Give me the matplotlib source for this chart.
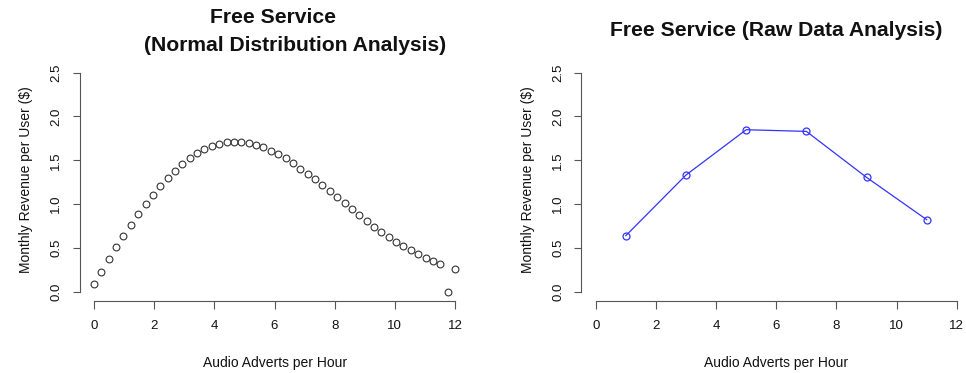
import matplotlib
matplotlib.use("Agg")
import matplotlib.pyplot as plt

plt.rcParams['font.family'] = ['Liberation Sans', 'DejaVu Sans']

# ---- data ----
norm_x = [0.000, 0.245, 0.490, 0.735, 0.980, 1.224, 1.469, 1.714, 1.959, 2.204,
          2.449, 2.694, 2.939, 3.184, 3.429, 3.673, 3.918, 4.163, 4.408, 4.653,
          4.898, 5.143, 5.388, 5.633, 5.878, 6.122, 6.367, 6.612, 6.857, 7.102,
          7.347, 7.592, 7.837, 8.082, 8.327, 8.571, 8.816, 9.061, 9.306, 9.551,
          9.796, 10.041, 10.286, 10.531, 10.776, 11.020, 11.265, 11.510, 11.755, 12.000]
norm_y = [0.091, 0.231, 0.372, 0.509, 0.638, 0.763, 0.885, 0.999, 1.105, 1.207,
          1.298, 1.382, 1.458, 1.523, 1.580, 1.625, 1.663, 1.689, 1.705, 1.712,
          1.708, 1.697, 1.680, 1.648, 1.609, 1.572, 1.526, 1.465, 1.405, 1.348,
          1.283, 1.215, 1.147, 1.078, 1.010, 0.942, 0.873, 0.809, 0.744, 0.683,
          0.626, 0.573, 0.524, 0.478, 0.433, 0.391, 0.353, 0.319, 0.003, 0.262]

raw_x = [1, 3, 5, 7, 9, 11]
raw_y = [0.642, 1.333, 1.849, 1.830, 1.306, 0.824]

x_ticks = [0, 2, 4, 6, 8, 10, 12]
y_ticks = [0.0, 0.5, 1.0, 1.5, 2.0, 2.5]
y_ticklabels = ["0.0", "0.5", "1.0", "1.5", "2.0", "2.5"]

title_left_1 = "Free Service"
title_left_2 = "(Normal Distribution Analysis)"
title_right = "Free Service (Raw Data Analysis)"
xlabel = "Audio Adverts per Hour"
ylabel = "Monthly Revenue per User ($)"

W, H = 966, 373
fig = plt.figure(figsize=(W / 100, H / 100), dpi=100)

def px_axes(x0, y0, x1, y1):
    return fig.add_axes([x0 / W, 1 - y1 / H, (x1 - x0) / W, (y1 - y0) / H])

axis_col = '#555555'

def style(ax, xlim):
    ax.set_xlim(*xlim)
    ax.set_ylim(-0.1, 2.6)
    for s in ['top', 'right']:
        ax.spines[s].set_visible(False)
    for s in ['left', 'bottom']:
        ax.spines[s].set_color(axis_col)
        ax.spines[s].set_linewidth(0.8)
    ax.spines['bottom'].set_bounds(0, 12)
    ax.spines['left'].set_bounds(0, 2.5)
    ax.set_xticks(x_ticks)
    ax.set_xticklabels([str(t) for t in x_ticks])
    ax.set_yticks(y_ticks)
    ax.set_yticklabels(y_ticklabels, rotation=90, va='center')
    ax.tick_params(axis='both', color=axis_col, width=0.8, length=5.4,
                   labelsize=9.5, labelcolor='#111111')
    ax.tick_params(axis='x', pad=8.3)
    ax.tick_params(axis='y', pad=6.9)
    ax.patch.set_visible(False)

# left panel
ax1 = px_axes(79.5, 63.8, 469.5, 300.8)
style(ax1, (-0.48, 12.48))
ax1.plot(norm_x, norm_y, linestyle='none', marker='o', markersize=4.9,
         markerfacecolor='none', markeredgecolor='#333333', markeredgewidth=0.8)

# right panel
ax2 = px_axes(581.3, 63.8, 966, 300.8)
style(ax2, (-0.48, 12.305))
ax2.plot(raw_x, raw_y, color='#3333ff', linewidth=0.9, marker='o', markersize=5.0,
         markerfacecolor='none', markeredgecolor='#3333ff', markeredgewidth=0.9)

def ftext(x, y, s, **kw):
    fig.text(x / W, 1 - y / H, s, **kw)

tkw = dict(fontsize=15.2, fontweight='bold', va='baseline', ha='center', color='#111111')
ftext(272.5, 23.3, title_left_1, **tkw)
ftext(295.5, 51.0, title_left_2, **tkw)
ftext(776, 36.0, title_right, **tkw)

lkw = dict(fontsize=10, color='#111111')
ftext(275, 366.7, xlabel, ha='center', va='baseline', **lkw)
ftext(776, 366.7, xlabel, ha='center', va='baseline', **lkw)
ftext(26, 180, ylabel, ha='center', va='center', rotation=90, **lkw)
ftext(528, 180, ylabel, ha='center', va='center', rotation=90, **lkw)

fig.savefig('out.png', dpi=100)
